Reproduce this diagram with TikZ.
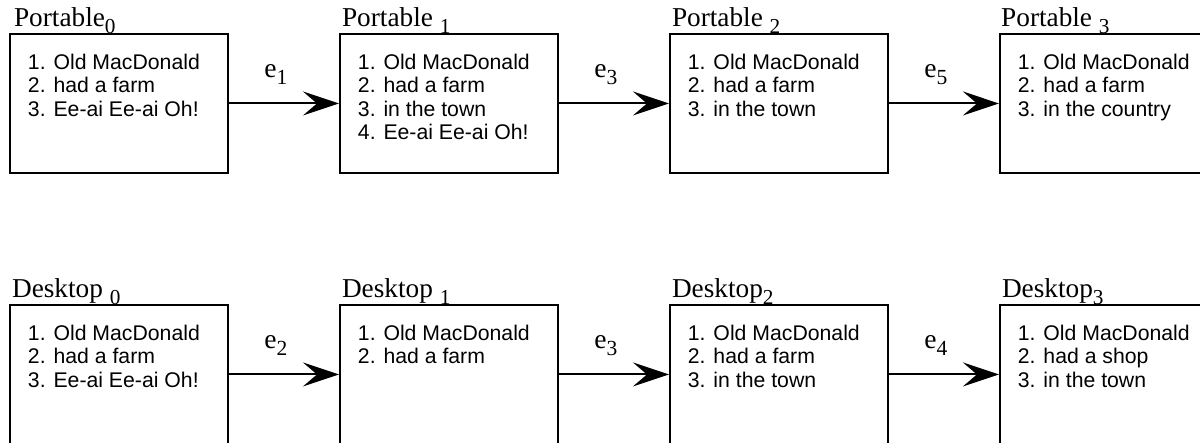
\documentclass[tikz,border=0pt]{standalone}
\usepackage{fontspec}
\usepackage{graphicx}
\setmainfont{Liberation Serif}
\newfontfamily\boxfont{Liberation Sans}
\newfontfamily\titlefont{Liberation Serif}
\usetikzlibrary{positioning, arrows.meta}
\newcommand{\lowidx}[1]{\raisebox{-0.26em}{\scalebox{0.78}{#1}}}
\newcommand{\verlines}[1]{\parbox[t][2.475cm][t]{4.55cm}{#1}}

\begin{document}
\begin{tikzpicture}[
  version/.style={draw, line width=1.4pt, rectangle, inner xsep=0.45cm, inner ysep=0.5cm, anchor=north west, font=\boxfont\fontsize{15.1pt}{16.7pt}\selectfont},
  vtitle/.style={anchor=base west, inner sep=0pt, font=\titlefont\fontsize{19.4pt}{21pt}\selectfont},
  flow/.style={line width=1.4pt, -{Stealth[length=0.9cm, width=0.6cm, inset=0.35cm]}},
  elabel/.style={anchor=base, xshift=-0.2cm, yshift=0.65cm, inner sep=0pt, font=\fontsize{19.6pt}{22pt}\selectfont}]
\useasboundingbox (0,0) rectangle (30,11.05);

% portable row
\node[version] (p0) at (0.225,10.225) {\verlines{1. Old MacDonald\\2. had a farm\\3. Ee-ai Ee-ai Oh!}};
\node[version, right=2.75cm of p0] (p1) {\verlines{1. Old MacDonald\\2. had a farm\\3. in the town\\4. Ee-ai Ee-ai Oh!}};
\node[version, right=2.75cm of p1] (p2) {\verlines{1. Old MacDonald\\2. had a farm\\3. in the town}};
\node[version, right=2.75cm of p2] (p3) {\verlines{1. Old MacDonald\\2. had a farm\\3. in the country}};

% desktop row
\node[version, below=3.25cm of p0] (d0) {\verlines{1. Old MacDonald\\2. had a farm\\3. Ee-ai Ee-ai Oh!}};
\node[version, right=2.75cm of d0] (d1) {\verlines{1. Old MacDonald\\2. had a farm}};
\node[version, right=2.75cm of d1] (d2) {\verlines{1. Old MacDonald\\2. had a farm\\3. in the town}};
\node[version, right=2.75cm of d2] (d3) {\verlines{1. Old MacDonald\\2. had a shop\\3. in the town}};

\node[vtitle] (tp0) at ([shift={(0.12cm,0.17cm)}]p0.north west) {Portable\lowidx{0}};
\node[vtitle] (tp1) at ([shift={(0.07cm,0.17cm)}]p1.north west) {Portable \lowidx{1}};
\node[vtitle] (tp2) at ([shift={(0.07cm,0.17cm)}]p2.north west) {Portable \lowidx{2}};
\node[vtitle] (tp3) at ([shift={(0.05cm,0.17cm)}]p3.north west) {Portable \lowidx{3}};
\node[vtitle] (td0) at ([shift={(0.07cm,0.17cm)}]d0.north west) {Desktop \lowidx{0}};
\node[vtitle] (td1) at ([shift={(0.07cm,0.17cm)}]d1.north west) {Desktop \lowidx{1}};
\node[vtitle] (td2) at ([shift={(0.07cm,0.17cm)}]d2.north west) {Desktop\lowidx{2}};
\node[vtitle] (td3) at ([shift={(0.07cm,0.17cm)}]d3.north west) {Desktop\lowidx{3}};

\draw[flow] (p0) -- node[elabel] {e\lowidx{1}} (p1);
\draw[flow] (p1) -- node[elabel] {e\lowidx{3}} (p2);
\draw[flow] (p2) -- node[elabel] {e\lowidx{5}} (p3);
\draw[flow] (d0) -- node[elabel] {e\lowidx{2}} (d1);
\draw[flow] (d1) -- node[elabel] {e\lowidx{3}} (d2);
\draw[flow] (d2) -- node[elabel] {e\lowidx{4}} (d3);
\end{tikzpicture}
\end{document}
